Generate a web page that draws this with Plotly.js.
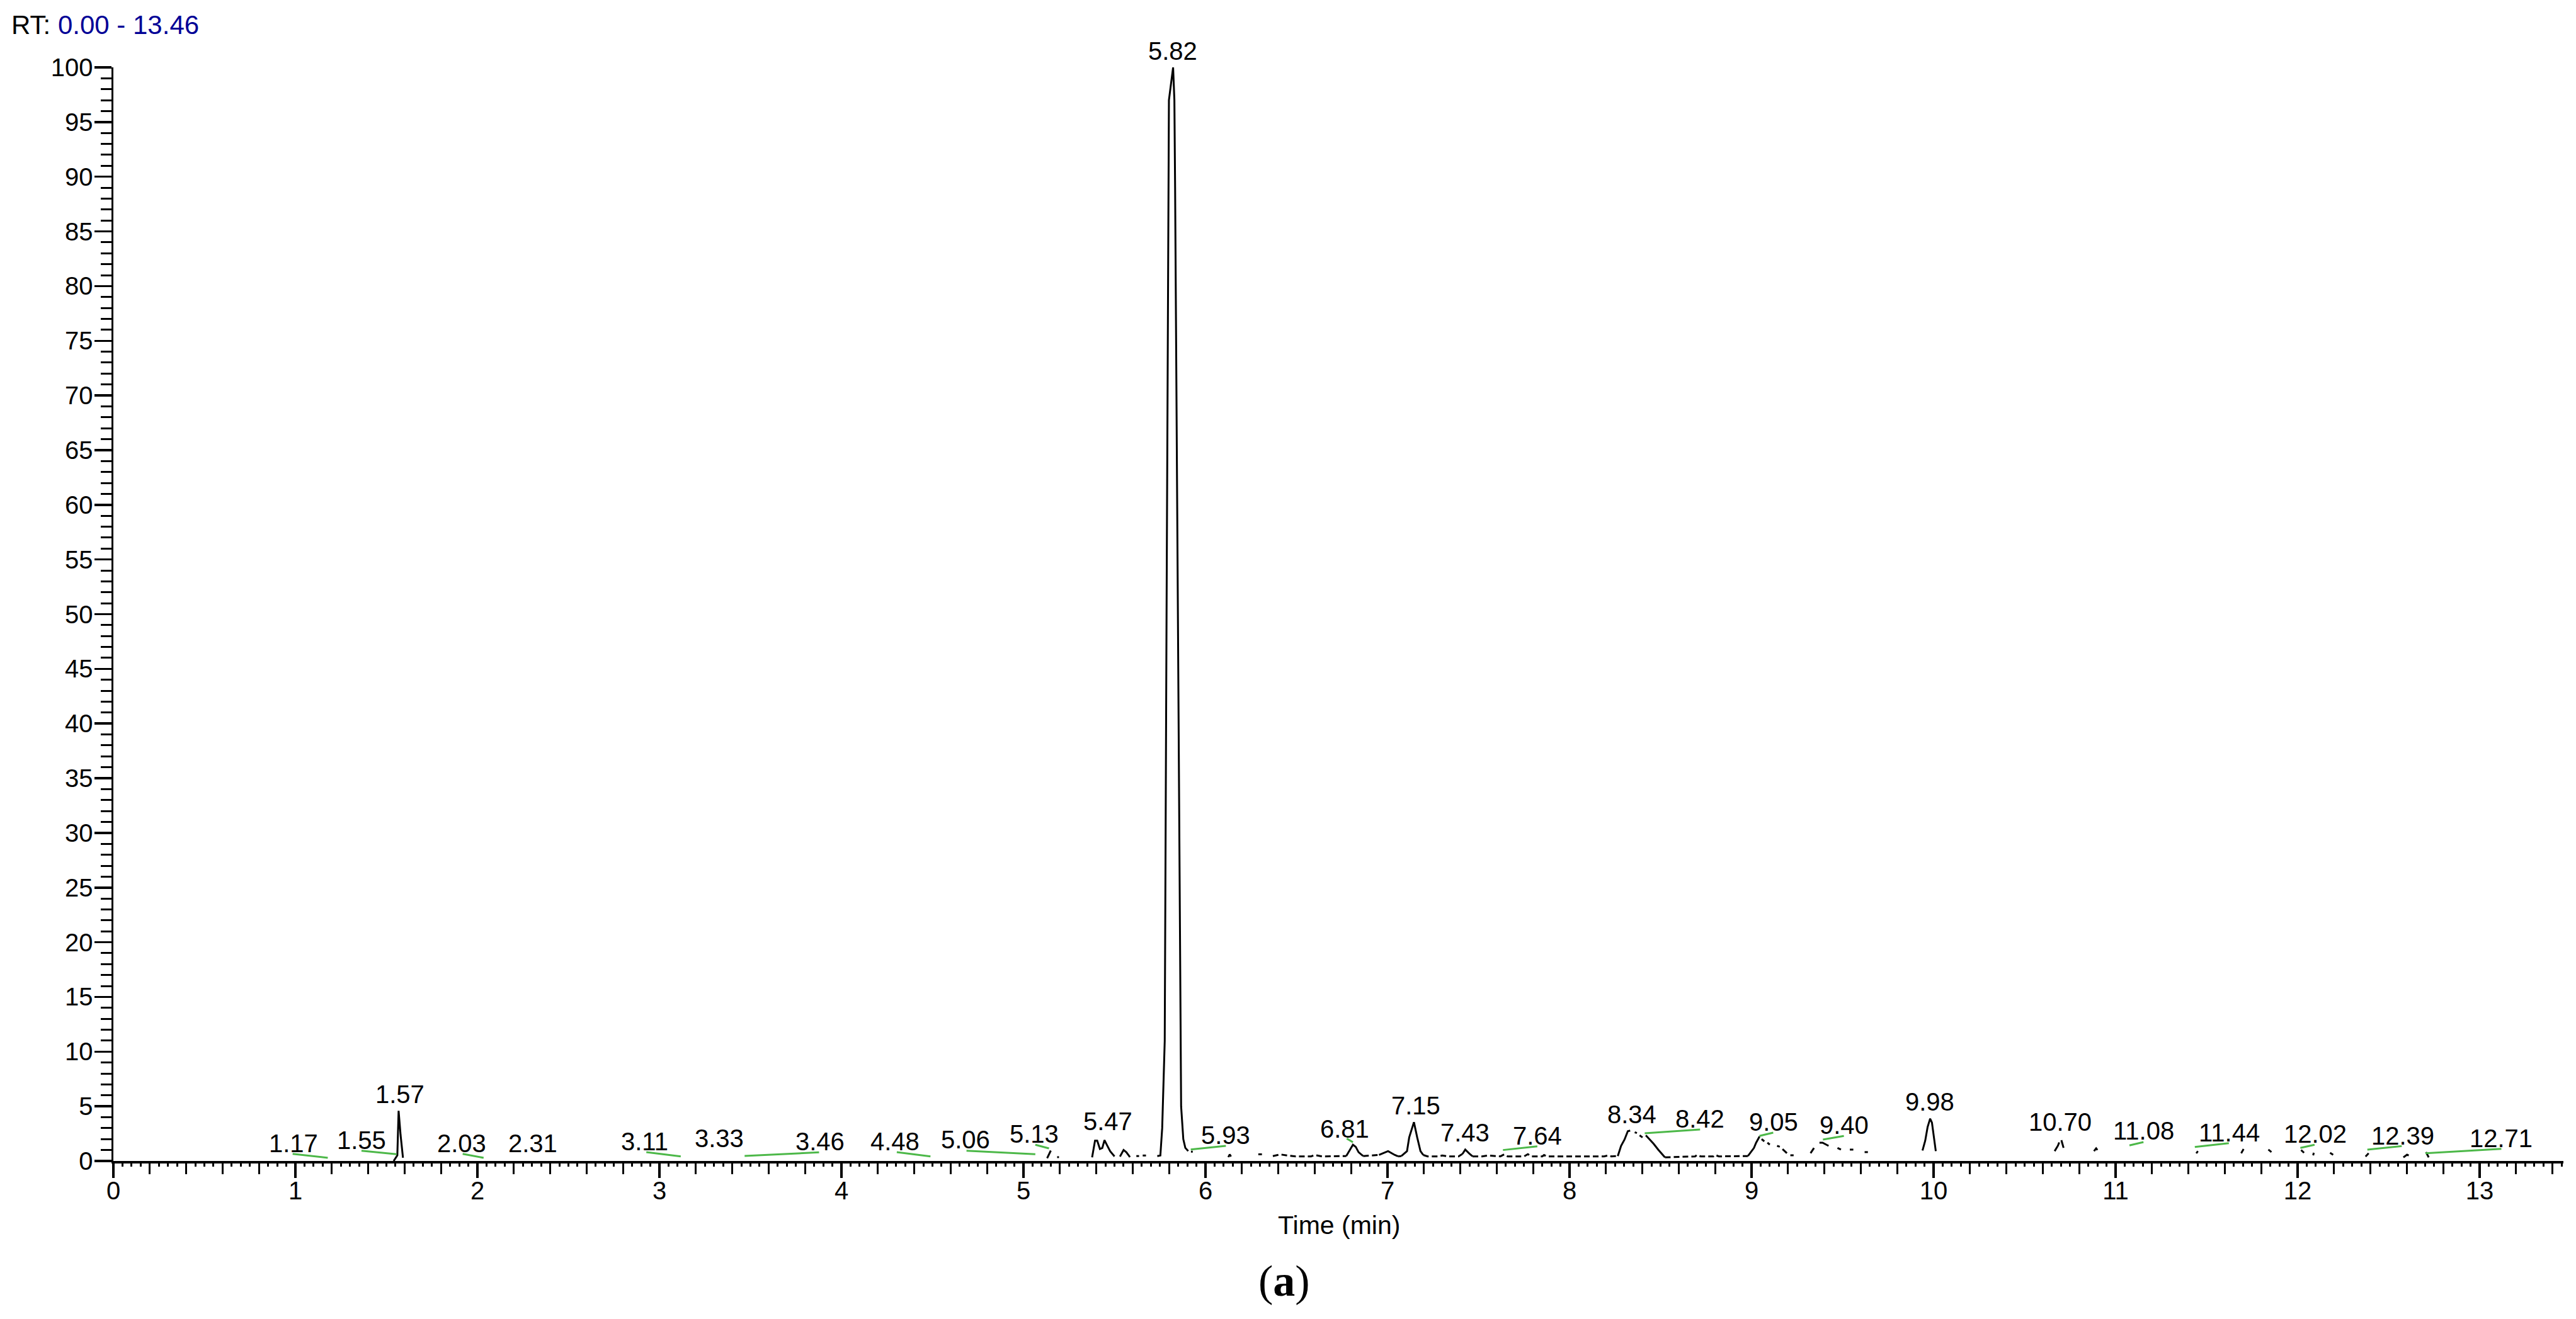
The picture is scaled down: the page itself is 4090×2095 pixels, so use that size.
<!DOCTYPE html>
<html>
<head>
<meta charset="utf-8">
<script src="https://cdn.plot.ly/plotly-3.0.1.min.js"></script>
<style>
  html, body { margin: 0; padding: 0; background: #ffffff; }
  #chart { width: 4090px; height: 2095px; }
</style>
</head>
<body>
<div id="chart"></div>
<script>
// ---- Chromatogram trace, solid parts (retention time in min, relative abundance %) ----
const rtSolid = [
  1.540, 1.560, 1.567, 1.578, 1.591, null,
  5.130, 5.150, null, 5.185, 5.195, null,
  5.377, 5.393, 5.405, 5.420, 5.433, 5.445, 5.457, 5.476, 5.500, null,
  5.530, 5.550, 5.565, 5.585, null,
  5.620, 5.635, null, 5.655, 5.673, null,
  5.735, 5.752, 5.762, 5.776, 5.786, 5.796, 5.799, 5.822, 5.829, 5.833, 5.848, 5.863, 5.866, 5.878, 5.889, 5.905, null,
  5.920, 5.930, null,
  6.125, 6.133, 6.140, null,
  6.773, 6.810, 6.825, 6.841, 6.866, null,
  6.953, 7.003, 7.040, 7.058, null,
  7.076, 7.107, 7.119, 7.145, 7.163, 7.181, 7.196, null,
  7.412, 7.427, 7.449, 7.467, null,
  8.265, 8.283, 8.302, 8.320, 8.333, null,
  8.358, 8.370, null, 8.385, 8.401, null,
  8.419, 8.462, 8.487, 8.524, null,
  8.980, 9.013, 9.025, 9.044, null,
  9.055, 9.070, null, 9.087, 9.100, null,
  9.140, 9.155, null, 9.170, 9.194, null, 9.213, 9.231, null,
  9.324, 9.343, null, 9.373, 9.390, 9.423, null,
  9.472, 9.491, null, 9.540, 9.559, null, 9.621, 9.639, null,
  9.939, 9.954, 9.967, 9.981, 9.991, 10.003, 10.012, null,
  10.665, 10.683, 10.690, null, 10.702, 10.714, null,
  10.881, 10.893, 10.900, null,
  11.443, 11.452, null,
  11.690, 11.703, null,
  11.839, 11.856, null,
  12.019, 12.035, null,
  12.085, 12.089, null,
  12.178, 12.195, null,
  12.373, 12.390, null,
  12.581, 12.601, 12.610, null,
  12.705, 12.720
];
const intSolid = [
  0.00, 0.52, 4.59, 2.36, 0.29, null,
  0.25, 0.95, null, 0.35, 0.35, null,
  0.33, 1.86, 1.86, 1.10, 1.19, 1.90, 1.50, 0.90, 0.42, null,
  0.40, 1.00, 0.80, 0.35, null,
  0.45, 0.45, null, 0.50, 0.50, null,
  0.45, 0.50, 3.0, 11.0, 50.0, 89.0, 97.0, 100.0, 97.0, 89.0, 50.0, 11.0, 5.0, 2.0, 1.20, 0.90, null,
  0.85, 0.85, null,
  0.35, 0.60, 0.40, null,
  0.45, 1.48, 1.30, 0.80, 0.45, null,
  0.55, 0.90, 0.55, 0.42, null,
  0.45, 0.90, 2.15, 3.55, 2.15, 0.90, 0.55, null,
  0.65, 1.04, 0.68, 0.42, null,
  0.45, 1.38, 1.96, 2.72, 2.78, null,
  2.63, 2.55, null, 2.35, 2.15, null,
  2.34, 1.57, 1.04, 0.33, null,
  0.45, 1.19, 1.67, 2.24, null,
  2.00, 1.80, null, 1.67, 1.50, null,
  1.38, 1.30, null, 1.09, 0.71, null, 0.52, 0.52, null,
  0.71, 1.19, null, 1.67, 1.67, 1.38, null,
  1.19, 1.04, null, 1.04, 1.04, null, 0.81, 0.81, null,
  0.96, 1.86, 3.10, 3.87, 3.50, 2.15, 0.90, null,
  0.90, 1.40, 1.70, null, 1.90, 1.20, null,
  0.90, 1.15, 1.00, null,
  0.70, 0.90, null,
  0.71, 1.09, null,
  1.04, 0.81, null,
  1.00, 0.75, null,
  0.52, 0.75, null,
  0.75, 0.56, null,
  0.40, 0.71, null,
  0.33, 0.58, 0.50, null,
  0.81, 0.33
];

// ---- Chromatogram trace, broken low-level baseline parts ----
const rtBase = [
  6.290, 6.310, null,
  6.370, 6.410, 6.452, 6.495, 6.580, 6.600, 6.640, 6.745, 6.773, null,
  6.866, 6.953, null,
  7.058, 7.076, null,
  7.196, 7.220, 7.280, 7.300, 7.330, 7.390, 7.412, null,
  7.467, 7.520, 7.550, 7.620, 7.641, 7.660, 7.750, 7.771, 7.790, 7.850, 7.860, 7.875, 8.190, 8.210, 8.230, 8.265, null,
  8.524, 8.690, 8.700, 8.720, 8.790, 8.800, 8.820, 8.980
];
const intBase = [
  0.61, 0.61, null,
  0.45, 0.60, 0.50, 0.42, 0.42, 0.55, 0.42, 0.42, 0.45, null,
  0.45, 0.55, null,
  0.42, 0.45, null,
  0.55, 0.42, 0.42, 0.50, 0.42, 0.42, 0.65, null,
  0.42, 0.42, 0.50, 0.42, 0.60, 0.42, 0.42, 0.62, 0.42, 0.42, 0.55, 0.42, 0.42, 0.50, 0.42, 0.45, null,
  0.33, 0.42, 0.55, 0.42, 0.42, 0.55, 0.42, 0.45
];

// ---- Peak labels (text and where each label sits) ----
const peakLabels = ['1.17','1.55','1.57','2.03','2.31','3.11','3.33','3.46','4.48','5.06','5.13','5.47','5.82','5.93',
                    '6.81','7.15','7.43','7.64','8.34','8.42','9.05','9.40','9.98','10.70','11.08','11.44','12.02','12.39','12.71'];
const labelX = [0.989, 1.365, 1.574, 1.915, 2.303, 2.917, 3.327, 3.882, 4.295, 4.683, 5.058, 5.464, 5.819, 6.112,
                6.763, 7.157, 7.427, 7.823, 8.341, 8.717, 9.122, 9.507, 9.979, 10.694, 11.154, 11.626, 12.097, 12.576, 13.118];
const labelY = [1.60, 1.91, 6.11, 1.59, 1.59, 1.78, 2.05, 1.77, 1.78, 1.94, 2.46, 3.60, 101.5, 2.34,
                2.92, 5.08, 2.58, 2.29, 4.24, 3.87, 3.57, 3.28, 5.41, 3.57, 2.79, 2.58, 2.49, 2.29, 2.10];

// ---- Green label leader lines (start and end of each) ----
const leaderX0 = [0.985, 1.363, 1.919, 2.928, 3.468, 4.304, 4.687, 5.065, 5.919, 6.776, 7.634, 8.413, 9.043, 9.392, 11.076, 11.435, 12.015, 12.383, 12.702];
const leaderY0 = [0.65, 0.94, 0.65, 0.81, 0.46, 0.81, 0.94, 1.48, 1.05, 2.05, 1.00, 2.53, 2.29, 1.96, 1.42, 1.28, 1.19, 1.04, 0.71];
const leaderX1 = [1.178, 1.556, 2.034, 3.117, 3.877, 4.489, 5.065, 5.140, 6.112, 6.810, 7.823, 8.717, 9.119, 9.507, 11.153, 11.622, 12.093, 12.572, 13.119];
const leaderY1 = [0.29, 0.62, 0.29, 0.42, 0.79, 0.42, 0.62, 1.15, 1.38, 1.71, 1.34, 2.88, 2.59, 2.29, 1.73, 1.63, 1.48, 1.36, 1.11];

// ---- Axis tick labels ----
const xTickVals = [0,1,2,3,4,5,6,7,8,9,10,11,12,13];
const xTickText = ['0','1','2','3','4','5','6','7','8','9','10','11','12','13'];
const yTickVals = [0,5,10,15,20,25,30,35,40,45,50,55,60,65,70,75,80,85,90,95,100];
const yTickText = yTickVals.map(String);

const rtRange = [0, 13.46];
const abundRange = [0, 100];

// build leader line trace (segments separated by gaps)
const gx = [], gy = [];
for (let i = 0; i < leaderX0.length; i++) {
  gx.push(leaderX0[i], leaderX1[i], null);
  gy.push(leaderY0[i], leaderY1[i], null);
}

const SANS = 'Liberation Sans, Arial, sans-serif';

const traces = [
  {
    type: 'scatter', mode: 'lines', x: rtBase, y: intBase,
    line: { color: '#000000', width: 3, dash: '9px,5px' },
    connectgaps: false, cliponaxis: false, hoverinfo: 'skip', showlegend: false
  },
  {
    type: 'scatter', mode: 'lines', x: rtSolid, y: intSolid,
    line: { color: '#000000', width: 3 },
    connectgaps: false, cliponaxis: false, hoverinfo: 'skip', showlegend: false
  },
  {
    type: 'scatter', mode: 'lines', x: gx, y: gy, xaxis: 'x2', yaxis: 'y',
    line: { color: 'rgb(76,184,72)', width: 3 },
    connectgaps: false, cliponaxis: false, hoverinfo: 'skip', showlegend: false
  }
];

// labels: x on the data axis, y as a fraction of the abundance axis (so labels above 100 % still show)
const annotations = peakLabels.map((t, i) => ({
  x: labelX[i], xref: 'x',
  y: (labelY[i] - abundRange[0]) / (abundRange[1] - abundRange[0]), yref: 'paper',
  text: t, showarrow: false,
  xanchor: 'center', yanchor: 'middle',
  font: { family: SANS, size: 40, color: '#000000' }
}));
annotations.push({
  xref: 'paper', yref: 'paper', x: 0.5003, y: -0.0587, xanchor: 'center', yanchor: 'middle',
  text: 'Time (min)', showarrow: false,
  font: { family: SANS, size: 41, color: '#000000' }
});
annotations.push({
  xref: 'paper', yref: 'paper', x: 0.478, y: -0.1094, xanchor: 'center', yanchor: 'middle',
  text: '(<b>a</b>)', showarrow: false,
  font: { family: 'Liberation Serif, Times New Roman, serif', size: 70, color: '#000000' }
});

const layout = {
  width: 4090, height: 2095,
  paper_bgcolor: '#ffffff', plot_bgcolor: '#ffffff',
  margin: { l: 180, r: 20, t: 107, b: 251 },
  showlegend: false,
  font: { family: SANS, color: '#000000' },
  title: {
    text: 'RT: <span style="color:rgb(0,0,150)">0.00 - 13.46</span>',
    xref: 'container', yref: 'container', x: 18 / 4090, y: 1 - 39 / 2095,
    xanchor: 'left', yanchor: 'middle',
    font: { family: SANS, size: 42, color: '#000000' }
  },
  xaxis: {
    range: rtRange, showgrid: false, zeroline: false,
    showline: true, linecolor: '#000000', linewidth: 3.5,
    ticks: 'outside', ticklen: 23, tickwidth: 3.5, tickcolor: '#000000',
    tickmode: 'array', tickvals: xTickVals, ticktext: xTickText,
    tickfont: { family: SANS, size: 40, color: '#000000' },
    ticklabelstandoff: -14,
    minor: { ticks: 'outside', dtick: 0.2, tick0: 0, ticklen: 17, tickwidth: 3, tickcolor: '#000000', showgrid: false }
  },
  xaxis2: {
    overlaying: 'x', anchor: 'y', side: 'bottom', range: rtRange,
    showgrid: false, zeroline: false, showline: false,
    ticks: 'outside', tickmode: 'linear', tick0: 0, dtick: 0.05, ticklen: 8, tickwidth: 3, tickcolor: '#000000',
    showticklabels: false
  },
  yaxis: {
    range: abundRange, showgrid: false, zeroline: false,
    showline: true, linecolor: '#000000', linewidth: 3.5,
    ticks: 'outside', ticklen: 27, tickwidth: 3.5, tickcolor: '#000000',
    tickmode: 'array', tickvals: yTickVals, ticktext: yTickText,
    tickfont: { family: SANS, size: 40, color: '#000000' },
    ticklabelstandoff: -6,
    minor: { ticks: 'outside', dtick: 1, tick0: 0, ticklen: 17, tickwidth: 3, tickcolor: '#000000', showgrid: false }
  },
  annotations: annotations
};

Plotly.newPlot('chart', traces, layout, { staticPlot: true, displayModeBar: false });
</script>
</body>
</html>
